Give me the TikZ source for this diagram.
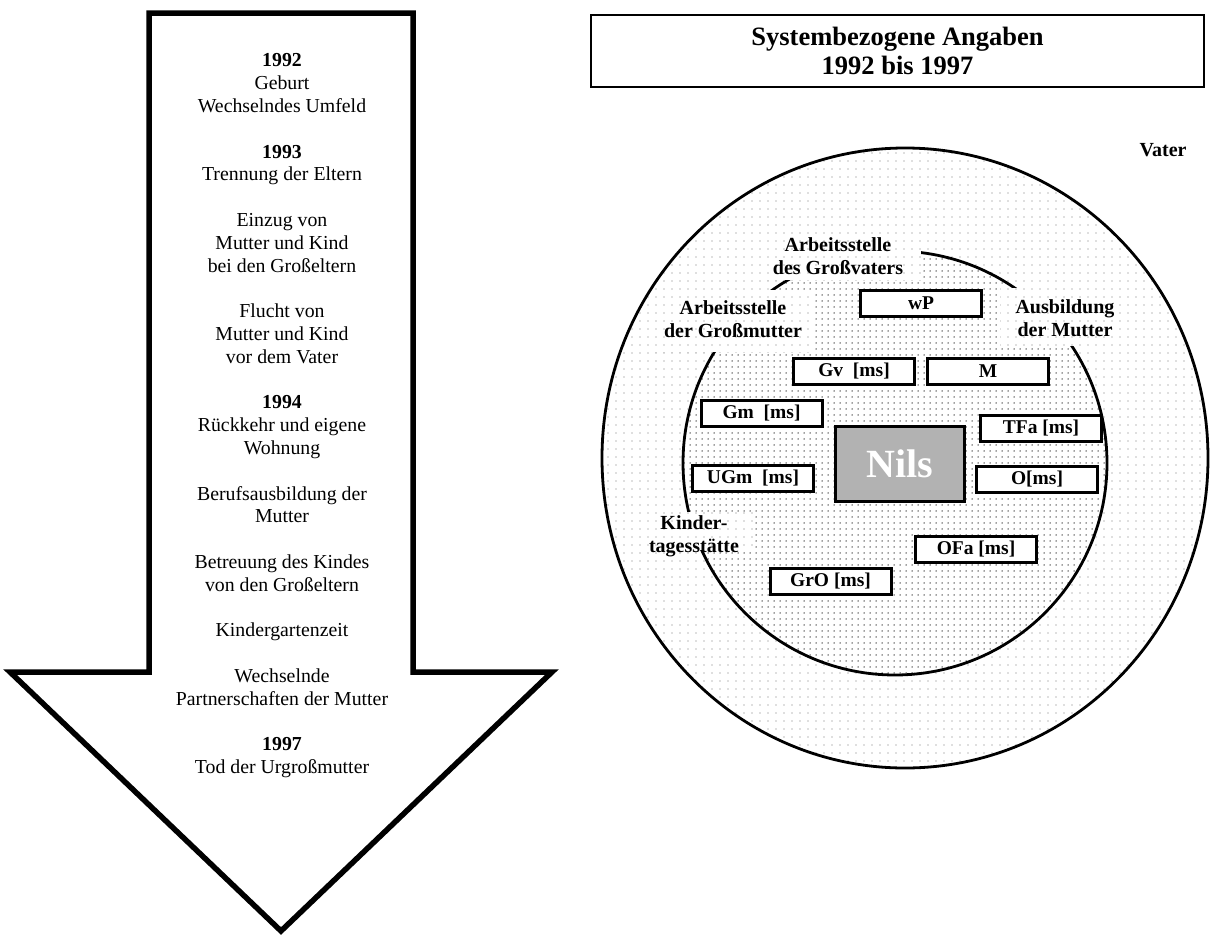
\documentclass[tikz,border=0pt]{standalone}
\usepackage{fontspec}
\setmainfont{Liberation Serif}
\usetikzlibrary{patterns.meta}
\begin{document}
\begin{tikzpicture}[x=1pt,y=-1pt,
  chronik/.style={align=center, inner sep=0pt, font=\fontsize{19.8}{22.8}\selectfont},
  lbl/.style={font=\fontsize{20}{23}\selectfont\bfseries, align=center, inner sep=0pt},
  person/.style={draw, line width=3pt, fill=white, minimum width=121pt, minimum height=26pt,
                 inner sep=0pt, font=\fontsize{19.5}{22}\selectfont\bfseries},
  outerdots/.style={pattern={Dots[distance=8pt, radius=0.8pt]}, pattern color=black!25},
  innerdots/.style={pattern={Dots[distance=6pt, radius=0.75pt]}, pattern color=black!75},
  labelbg/.style={preaction={fill=white}, outerdots},
]
\useasboundingbox (0,0) rectangle (1210,937);
\fill[white] (0,0) rectangle (1210,937);

% timeline arrow
\draw[line width=5.5pt, line join=miter, fill=white]
  (149,13) -- (413,13) -- (413,672) -- (552,672) -- (281,931) -- (10,672) -- (149,672) -- cycle;
\node[chronik, anchor=north] (ereignisse) at (282,53.5) {%
  \textbf{1992}\\Geburt\\Wechselndes Umfeld\\[22.8pt]%
  \textbf{1993}\\Trennung der Eltern\\[22.8pt]%
  Einzug von\\Mutter und Kind\\bei den Großeltern\\[22.8pt]%
  Flucht von\\Mutter und Kind\\vor dem Vater\\[22.8pt]%
  \textbf{1994}\\Rückkehr und eigene\\Wohnung\\[22.8pt]%
  Berufsausbildung der\\Mutter\\[22.8pt]%
  Betreuung des Kindes\\von den Großeltern\\[22.8pt]%
  Kindergartenzeit\\[22.8pt]%
  Wechselnde\\Partnerschaften der Mutter\\[22.8pt]%
  \textbf{1997}\\Tod der Urgroßmutter};

% heading
\node[draw, line width=1.6pt, minimum width=613pt, minimum height=72pt, align=center,
      font=\fontsize{26.5}{29}\selectfont\bfseries] (titel) at (897.5,51)
  {Systembezogene Angaben\\1992 bis 1997};

% system circles
\path[preaction={fill=white}, outerdots, draw, line width=2.8pt]
  (905,458) ellipse [x radius=303pt, y radius=310pt];
\path[preaction={fill=white}, innerdots, draw, line width=2.8pt]
  (895,463) circle [radius=212pt];

% label patches on the inner ring
\path[labelbg] (765,232) rectangle (921,280);
\path[labelbg] (655,290) rectangle (815,352);
\path[labelbg] (1000,288) rectangle (1135,346);
\path[labelbg] (640,512) rectangle (755,550);

\node[lbl] (vater) at (1163,150) {Vater};
\node[lbl] (gvarbeit) at (838,256.5) {Arbeitsstelle\\des Großvaters};
\node[lbl] (gmarbeit) at (733,319.5) {Arbeitsstelle\\der Großmutter};
\node[lbl] (ausbildung) at (1065,318.5) {Ausbildung\\der Mutter};
\node[lbl] (kita) at (694,536) {Kinder-\\tagesstätte};

% persons
\node[person] (wp) at (921,303.5) {wP};
\node[person] (gv) at (854,371) {Gv~~[ms]};
\node[person] (m) at (988,371) {M};
\node[person] (gm) at (761.5,413) {Gm~~[ms]};
\node[person] (tfa) at (1041,428) {TFa [ms]};
\node[person] (ugm) at (753,478) {UGm~~[ms]};
\node[person] (o) at (1037,479) {O[ms]};
\node[person] (ofa) at (976,549) {OFa [ms]};
\node[person] (gro) at (830.5,581.5) {GrO [ms]};
\node[draw, line width=3pt, fill=black!30, minimum width=129pt, minimum height=75pt,
      inner sep=0pt, text=white, font=\fontsize{40}{44}\selectfont\bfseries] (nils) at (900,464) {Nils};
\end{tikzpicture}
\end{document}
